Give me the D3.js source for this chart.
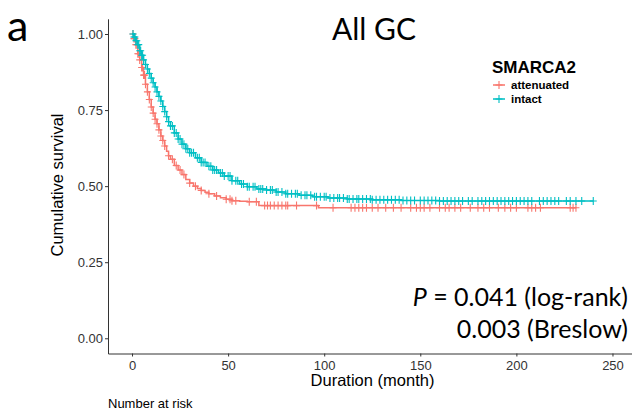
<!DOCTYPE html>
<html>
<head>
<meta charset="utf-8">
<script src="https://cdn.jsdelivr.net/npm/d3@7"></script>
<style>
  body { margin: 0; background: #fff; }
  svg { display: block; }
  .axis text { font-family: "Liberation Sans", Arial, sans-serif; font-size: 13px; fill: #333; }
  .axis path, .axis line { stroke: #333; }
</style>
</head>
<body>
<div class="km-container"></div>
<script>
// step points of the Kaplan-Meier curves (time in months, survival)
const attenuatedTimes = [0, 1, 2, 3, 4, 5, 6, 7, 8, 9, 10, 11, 12, 13, 14, 15, 16, 17, 18, 19, 20, 22, 24, 26, 28, 30, 32, 34, 36, 38, 40, 43, 46, 49, 52, 56, 60, 66, 97, 231];
const attenuatedSurv = [1.0, 0.985, 0.965, 0.935, 0.915, 0.89, 0.865, 0.835, 0.81, 0.785, 0.76, 0.74, 0.72, 0.705, 0.685, 0.665, 0.65, 0.632, 0.615, 0.6, 0.588, 0.568, 0.553, 0.538, 0.522, 0.51, 0.5, 0.492, 0.486, 0.48, 0.475, 0.468, 0.462, 0.457, 0.452, 0.45, 0.449, 0.436, 0.429, 0.429];

const intactTimes = [0, 1, 2, 3, 4, 5, 6, 7, 8, 9, 10, 11, 12, 13, 14, 15, 16, 17, 18, 19, 20, 22, 24, 26, 28, 30, 33, 36, 39, 42, 45, 48, 52, 56, 60, 65, 70, 75, 80, 87, 94, 102, 112, 125, 140, 160, 240];
const intactSurv = [1.0, 0.99, 0.978, 0.965, 0.945, 0.93, 0.915, 0.9, 0.885, 0.87, 0.855, 0.84, 0.826, 0.81, 0.795, 0.78, 0.762, 0.745, 0.728, 0.712, 0.698, 0.675, 0.655, 0.638, 0.623, 0.61, 0.593, 0.578, 0.565, 0.553, 0.543, 0.533, 0.518, 0.507, 0.498, 0.491, 0.487, 0.481, 0.475, 0.47, 0.465, 0.461, 0.458, 0.455, 0.453, 0.451, 0.451];

// censored observations
const attenuatedCensor = [0.5, 1, 1.5, 2, 2.5, 3, 3.5, 4, 5, 5.5, 6, 6.5, 7, 8, 9, 10, 11, 12, 13, 14, 15, 16, 17, 19, 21, 23, 25, 27, 30, 33, 36, 40, 44, 49, 51, 52, 54, 61, 64.7, 69, 70.5, 72, 74, 76, 78, 80, 81, 85.6, 96, 104.6, 114, 116, 118, 120, 122, 125, 128, 132, 136, 140, 145, 148, 150, 152, 155, 160, 163, 165, 168, 171, 176, 180, 183, 186, 190.6, 194, 197, 200, 206, 208, 210, 212.5, 228, 229.5, 231];
const intactCensor = [0.5, 1, 1.5, 2, 2.5, 3, 3.5, 4, 4.5, 5, 5.5, 6, 7, 8, 9, 10, 11, 12, 13, 14, 15, 16, 17, 18, 19, 20, 21, 22, 23, 24, 25, 26, 27, 28, 29, 30, 31, 32, 34, 35, 36, 37, 38, 40, 41, 42, 43, 44, 46, 47, 48, 50, 51, 52, 54, 55, 57, 58, 60, 61, 63, 64, 66, 67, 68, 70, 72, 73, 75, 76, 78, 80, 81, 83, 85, 86, 88, 90, 91, 93, 95, 96, 98, 100, 101, 103, 105, 107, 108, 110, 112, 113, 115, 117, 118, 120, 122, 124, 125, 127, 129, 131, 133, 135, 137, 139, 141, 143, 145, 147, 150, 152, 154, 156, 158, 160, 162, 164, 166, 168, 170, 172, 175, 177, 180, 182, 184, 186, 188, 190, 192, 194, 196, 198, 200, 202, 204, 206, 208, 212, 214, 216, 218, 220, 222, 226, 228, 231, 234, 240];

const groupNames = ["attenuated", "intact"];
const groupColors = ["#F8766D", "#00BFC4"];
const xTicks = [0, 50, 100, 150, 200, 250];
const yTicks = [0, 0.25, 0.5, 0.75, 1];

const chartWidth = 632;
const chartHeight = 417;

const svg = d3.select(".km-container")
  .append("svg")
  .attr("width", chartWidth)
  .attr("height", chartHeight);

const xScale = d3.scaleLinear()
  .domain([-12.5, 262.5])
  .range([108, 636.5]);

const yScale = d3.scaleLinear()
  .domain([-0.05, 1.05])
  .range([353.5, 18.8]);

const groups = [
  { name: groupNames[0], color: groupColors[0], times: attenuatedTimes, surv: attenuatedSurv, censor: attenuatedCensor },
  { name: groupNames[1], color: groupColors[1], times: intactTimes, surv: intactSurv, censor: intactCensor }
];

const line = d3.line()
  .x(d => xScale(d[0]))
  .y(d => yScale(d[1]))
  .curve(d3.curveStepAfter);

const bisect = d3.bisector(d => d).right;

groups.forEach(g => {
  const pts = g.times.map((t, i) => [t, g.surv[i]]);
  svg.append("path")
    .datum(pts)
    .attr("fill", "none")
    .attr("stroke", g.color)
    .attr("stroke-width", 1.5)
    .attr("d", line);

  // survival at the censor time
  const survAt = t => g.surv[Math.max(0, bisect(g.times, t) - 1)];

  svg.append("g").selectAll("path")
    .data(g.censor)
    .enter()
    .append("path")
    .attr("transform", d => "translate(" + xScale(d) + "," + yScale(survAt(d)) + ")")
    .attr("d", "M-3.5,0H3.5M0,-4V4")
    .attr("stroke", g.color)
    .attr("stroke-width", 1.1);
});

// axes
svg.append("g")
  .attr("class", "axis")
  .attr("transform", "translate(0,353.5)")
  .call(d3.axisBottom(xScale).tickValues(xTicks).tickSize(3).tickPadding(2).tickSizeOuter(0))
  .call(g => g.selectAll("text").attr("dy", "0.85em"));

svg.append("g")
  .attr("class", "axis")
  .attr("transform", "translate(108,0)")
  .call(d3.axisLeft(yScale).tickValues(yTicks).tickSize(3).tickPadding(2).tickSizeOuter(0).tickFormat(d3.format(".2f")));

// axis titles
svg.append("text")
  .attr("x", 372.5)
  .attr("y", 386)
  .attr("text-anchor", "middle")
  .style("font-family", "Liberation Sans, Arial, sans-serif")
  .style("font-size", "16.5px")
  .style("fill", "#000")
  .text("Duration (month)");

svg.append("text")
  .attr("transform", "rotate(-90)")
  .attr("x", -185)
  .attr("y", 63)
  .attr("text-anchor", "middle")
  .style("font-family", "Liberation Sans, Arial, sans-serif")
  .style("font-size", "16.5px")
  .style("fill", "#000")
  .text("Cumulative survival");

svg.append("text")
  .attr("x", 108)
  .attr("y", 408)
  .style("font-family", "Liberation Sans, Arial, sans-serif")
  .style("font-size", "13px")
  .style("fill", "#000")
  .text("Number at risk");

// panel letter and title
svg.append("text")
  .attr("x", 7)
  .attr("y", 41)
  .style("font-family", "Lato, sans-serif")
  .style("font-size", "43px")
  .style("fill", "#000")
  .text("a");

svg.append("text")
  .attr("x", 374)
  .attr("y", 40)
  .attr("text-anchor", "middle")
  .style("font-family", "Lato, sans-serif")
  .style("font-size", "30px")
  .style("fill", "#000")
  .text("All GC");

// legend
svg.append("text")
  .attr("x", 492)
  .attr("y", 73)
  .style("font-family", "Liberation Sans, Arial, sans-serif")
  .style("font-size", "17px")
  .style("font-weight", "bold")
  .style("fill", "#000")
  .text("SMARCA2");

groups.forEach((g, i) => {
  const ly = 85 + i * 14;
  svg.append("line")
    .attr("x1", 493).attr("x2", 505)
    .attr("y1", ly).attr("y2", ly)
    .attr("stroke", g.color)
    .attr("stroke-width", 1.5);
  svg.append("path")
    .attr("transform", "translate(499," + ly + ")")
    .attr("d", "M-3.5,0H3.5M0,-4V4")
    .attr("stroke", g.color)
    .attr("stroke-width", 1.1);
  svg.append("text")
    .attr("x", 511)
    .attr("y", ly + 4)
    .style("font-family", "Liberation Sans, Arial, sans-serif")
    .style("font-size", "11.5px")
    .style("font-weight", "bold")
    .style("fill", "#000")
    .text(g.name);
});

// test results
const pText = svg.append("text")
  .attr("x", 628)
  .attr("y", 306)
  .attr("text-anchor", "end")
  .style("font-family", "Lato, sans-serif")
  .style("font-size", "25px")
  .style("fill", "#000");
pText.append("tspan").style("font-style", "italic").text("P");
pText.append("tspan").text(" = 0.041 (log-rank)");

svg.append("text")
  .attr("x", 628)
  .attr("y", 338)
  .attr("text-anchor", "end")
  .style("font-family", "Lato, sans-serif")
  .style("font-size", "25px")
  .style("fill", "#000")
  .text("0.003 (Breslow)");
</script>
</body>
</html>
